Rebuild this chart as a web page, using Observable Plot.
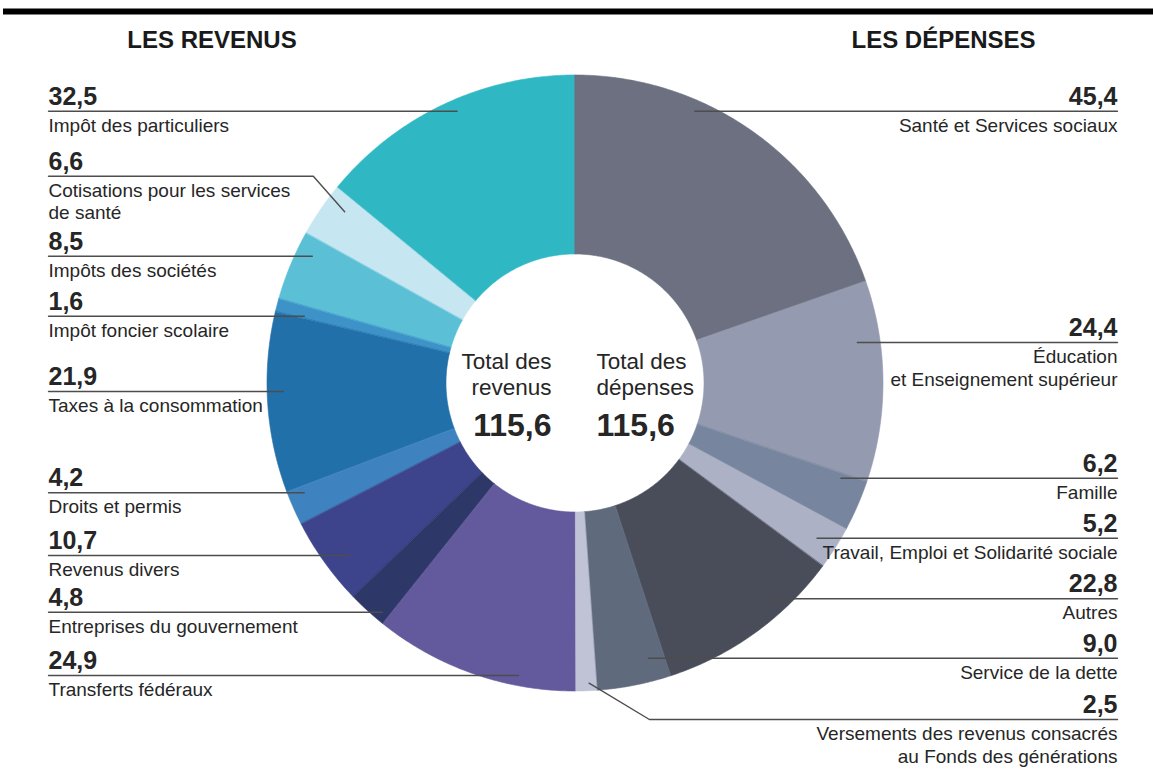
<!DOCTYPE html>
<html><head><meta charset="utf-8">
<script src="https://cdn.jsdelivr.net/npm/d3@7"></script>
<script src="https://cdn.jsdelivr.net/npm/@observablehq/plot@0.6"></script>
<style>body{margin:0;background:#fff;} svg{display:block}</style>
</head><body><div id="chart"></div>
<script>
// ---------- DATA ----------
const revenueNames = [
  "Impôt des particuliers",
  "Cotisations pour les services\nde santé",
  "Impôts des sociétés",
  "Impôt foncier scolaire",
  "Taxes à la consommation",
  "Droits et permis",
  "Revenus divers",
  "Entreprises du gouvernement",
  "Transferts fédéraux"
];
const revenueValues = [32.5, 6.6, 8.5, 1.6, 21.9, 4.2, 10.7, 4.8, 24.9];
const expenseNames = [
  "Santé et Services sociaux",
  "Éducation\net Enseignement supérieur",
  "Famille",
  "Travail, Emploi et Solidarité sociale",
  "Autres",
  "Service de la dette",
  "Versements des revenus consacrés\nau Fonds des générations"
];
const expenseValues = [45.4, 24.4, 6.2, 5.2, 22.8, 9.0, 2.5];
const totalRevenue = 115.6;
const totalExpense = 115.6;
const headers = ["LES REVENUS", "LES DÉPENSES"];
const centerLabels = [["Total des", "revenus"], ["Total des", "dépenses"]];

// ---------- STYLE / LAYOUT ----------
const revenueColors = ["#2fb8c3", "#c6e6f1", "#5bc0d6", "#3d93c8", "#2270a9", "#3e83bf", "#3d448b", "#2e3868", "#625a9d"];
const expenseColors = ["#6c7080", "#949aaf", "#77869e", "#acb1c6", "#494d59", "#5f6a7d", "#c0c2d6"];
const W = 1153, H = 774;
const CX = 574.5, CY = 382.5, R_OUT = 308, R_IN = 129;
const revenueRowY = [110.7, 175.7, 255.7, 315.7, 391, 492.3, 555, 611.7, 675];
const expenseRowY = [110.7, 342, 477.7, 537.7, 598.3, 657.7, 719];
// inset of each leader's inner end from the donut's outer edge (px, horizontal)
const revenueInset = [27, 0, 18, 30, 16, 17, 30, 13, 40];
const expenseInset = [25, 23, 27, 24, 33, 65, 0];
const revenueBend = [null, {r: 287, frac: 0.27, slope: 0.88}, null, null, null, null, null, null, null];
const expenseBend = [null, null, null, null, null, null, {r: 300.5, frac: 0.35, slope: 1.66}];
const LEFT_X = 48, RIGHT_X = 1117;
const FONT = "'Liberation Sans', Arial, Helvetica, sans-serif";
const TEXT = "#262626", LEADER = "#4d4d4d";
const fmt = v => v.toFixed(1).replace(".", ",");

// ---------- GEOMETRY ----------
function buildSide(names, values, colors, total, dir, rowY, insets, bends, side) {
  const slices = [], leaders = [], values_t = [], labels_t = [];
  let cum = 0;
  values.forEach((v, i) => {
    const a0 = dir * cum / total * Math.PI;
    const a1 = dir * (cum + v) / total * Math.PI;
    const n = Math.max(4, Math.ceil(Math.abs(a1 - a0) / (Math.PI / 360)));
    const key = side + i;
    for (let k = 0; k <= n; k++) {
      const a = a0 + (a1 - a0) * k / n;
      slices.push({key, color: colors[i], x: CX + R_OUT * Math.sin(a), y: CY - R_OUT * Math.cos(a)});
    }
    for (let k = n; k >= 0; k--) {
      const a = a0 + (a1 - a0) * k / n;
      slices.push({key, color: colors[i], x: CX + R_IN * Math.sin(a), y: CY - R_IN * Math.cos(a)});
    }
    const y = rowY[i];
    const outerX = side === "L" ? LEFT_X : RIGHT_X;
    const sgn = side === "L" ? -1 : 1;
    if (bends[i]) {
      const am = a0 + (a1 - a0) * bends[i].frac;
      const ex = CX + bends[i].r * Math.sin(am), ey = CY - bends[i].r * Math.cos(am);
      const bx = ex + sgn * bends[i].slope * Math.abs(ey - y);
      leaders.push({key, x: outerX, y}, {key, x: bx, y}, {key, x: ex, y: ey});
    } else {
      const dy = y - CY;
      const edge = Math.sqrt(Math.max(R_OUT * R_OUT - dy * dy, 0));
      const ex = CX + sgn * (edge - insets[i]);
      leaders.push({key, x: outerX, y}, {key, x: ex, y});
    }
    values_t.push({x: outerX, y: y - 6.5, text: fmt(v)});
    names[i].split("\n").forEach((line, j) => labels_t.push({x: outerX, y: y + 20.5 + j * 22.5, text: line}));
    cum += v;
  });
  return {slices, leaders, values_t, labels_t};
}

const L = buildSide(revenueNames, revenueValues, revenueColors, totalRevenue, -1, revenueRowY, revenueInset, revenueBend, "L");
const R = buildSide(expenseNames, expenseValues, expenseColors, totalExpense, 1, expenseRowY, expenseInset, expenseBend, "R");

const headerData = headers.map((t, i) => ({text: t, x: i === 0 ? 211.5 : 943, y: 47}));
const centerWords = [], centerTotals = [];
[[totalRevenue, 551, "end"], [totalExpense, 596, "start"]].forEach(([tot, x, anchor], i) => {
  centerWords.push({x, y: 368.5, text: centerLabels[i][0], anchor});
  centerWords.push({x, y: 394, text: centerLabels[i][1], anchor});
  centerTotals.push({x, y: 435.5, text: fmt(tot), anchor});
});

const textOpts = {x: "x", y: "y", text: "text", lineAnchor: "bottom", fontFamily: FONT, fill: TEXT};

const chart = Plot.plot({
  width: W, height: H,
  margin: 0,
  x: {domain: [0, W], range: [0, W], axis: null},
  y: {domain: [0, H], range: [0, H], axis: null},
  color: {type: "identity"},
  style: {fontFamily: FONT, background: "#fff"},
  marks: [
    Plot.ruleY([11], {x1: 3, x2: W, stroke: "#000", strokeWidth: 6}),
    Plot.line(L.slices, {x: "x", y: "y", z: "key", fill: "color", stroke: "color", strokeWidth: 0.6, curve: "linear-closed"}),
    Plot.line(R.slices, {x: "x", y: "y", z: "key", fill: "color", stroke: "color", strokeWidth: 0.6, curve: "linear-closed"}),
    Plot.line(L.leaders, {x: "x", y: "y", z: "key", stroke: LEADER, strokeWidth: 1.4}),
    Plot.line(R.leaders, {x: "x", y: "y", z: "key", stroke: LEADER, strokeWidth: 1.4}),
    Plot.text(L.values_t, {...textOpts, textAnchor: "start", fontSize: 25, fontWeight: "bold"}),
    Plot.text(R.values_t, {...textOpts, textAnchor: "end", fontSize: 25, fontWeight: "bold"}),
    Plot.text(L.labels_t, {...textOpts, textAnchor: "start", fontSize: 19}),
    Plot.text(R.labels_t, {...textOpts, textAnchor: "end", fontSize: 19}),
    Plot.text(headerData, {...textOpts, textAnchor: "middle", fontSize: 24, fontWeight: "bold", fill: "#1a1a1a"}),
    Plot.text(centerWords.filter(d => d.anchor === "end"), {...textOpts, textAnchor: "end", fontSize: 22.5}),
    Plot.text(centerWords.filter(d => d.anchor === "start"), {...textOpts, textAnchor: "start", fontSize: 22.5}),
    Plot.text(centerTotals.filter(d => d.anchor === "end"), {...textOpts, textAnchor: "end", fontSize: 32, fontWeight: "bold"}),
    Plot.text(centerTotals.filter(d => d.anchor === "start"), {...textOpts, textAnchor: "start", fontSize: 32, fontWeight: "bold"})
  ]
});
document.getElementById("chart").appendChild(chart);
</script>
</body></html>
